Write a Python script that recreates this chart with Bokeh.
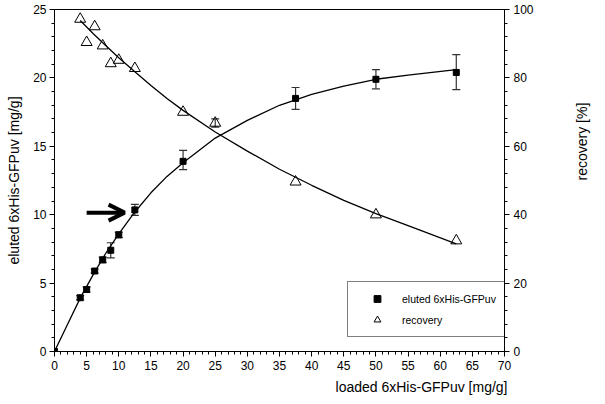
import math
from bokeh.plotting import figure
from bokeh.models import (Range1d, LinearAxis, Whisker, TeeHead, ColumnDataSource,
                          Legend, LegendItem, Arrow, OpenHead, SingleIntervalTicker, Title)
from bokeh.embed import file_html
from bokeh.resources import INLINE

# measured data
loaded = [0, 4, 5, 6.25, 7.5, 8.75, 10, 12.5, 20, 37.5, 50, 62.5]
eluted = [0, 3.93, 4.53, 5.88, 6.70, 7.40, 8.53, 10.35, 13.9, 18.5, 19.9, 20.4]
eluted_lo = [0, 3.78, 4.33, 5.73, 6.50, 6.85, 8.33, 9.95, 13.3, 17.7, 19.2, 19.15]
eluted_hi = [0, 4.08, 4.73, 6.03, 6.90, 7.95, 8.73, 10.75, 14.7, 19.3, 20.6, 21.7]

rec_x = [4, 5, 6.25, 7.5, 8.75, 10, 12.5, 20, 25, 37.5, 50, 62.5]
recovery = [97.2, 90.4, 95.0, 89.4, 84.2, 85.2, 82.8, 70.0, 66.8, 49.6, 40.0, 32.4]
rec_err_x = [25]
rec_err_lo = [65.6]
rec_err_hi = [68.0]

# fitted curves
fit_el_x = [0, 2, 4, 6, 8, 10, 12.5, 15, 17.5, 20, 25, 30, 35, 40, 45, 50, 55, 62.5]
fit_el_y = [0, 1.95, 3.9, 5.6, 7.2, 8.6, 10.2, 11.6, 12.8, 13.8, 15.6, 16.9, 18.0, 18.8, 19.4, 19.9, 20.2, 20.6]
fit_rec_x = [4, 6, 8, 10, 12.5, 15, 17.5, 20, 25, 30, 35, 40, 45, 50, 55, 62.5]
fit_rec_y = [96.8, 93.0, 89.4, 85.9, 81.8, 77.8, 74.0, 70.5, 64.2, 58.6, 53.3, 48.6, 44.2, 40.3, 36.8, 31.5]

x_title = "loaded 6xHis-GFPuv [mg/g]"
y_title = "eluted 6xHis-GFPuv [mg/g]"
y2_title = "recovery [%]"

FONT = "Liberation Sans"

p = figure(width=600, height=400, x_range=Range1d(0, 70), y_range=Range1d(0, 25),
           output_backend="svg", toolbar_location=None,
           min_border_left=54, min_border_right=95, min_border_top=9, min_border_bottom=49)
p.extra_y_ranges = {"rec": Range1d(0, 100)}
p.xgrid.visible = False
p.ygrid.visible = False
p.outline_line_color = "black"
p.outline_line_width = 1

def style_axis(ax):
    ax.axis_line_color = "black"
    ax.major_tick_line_color = "black"
    ax.minor_tick_line_color = "black"
    ax.major_tick_out = 5
    ax.major_tick_in = 0
    ax.minor_tick_out = 3
    ax.minor_tick_in = 0
    ax.major_label_text_font = FONT
    ax.major_label_text_font_size = "12px"
    ax.major_label_text_color = "black"
    ax.axis_label_text_font = FONT
    ax.axis_label_text_font_size = "14px"
    ax.axis_label_text_font_style = "normal"
    ax.axis_label_text_color = "black"

xa = p.xaxis[0]
xa.ticker = SingleIntervalTicker(interval=5, num_minor_ticks=5)
style_axis(xa)
xa.major_label_standoff = 4

ya = p.yaxis[0]
ya.ticker = SingleIntervalTicker(interval=5, num_minor_ticks=5)
ya.axis_label = y_title
style_axis(ya)
ya.major_label_standoff = 3
ya.axis_label_standoff = 8

ra = LinearAxis(y_range_name="rec", axis_label=y2_title,
                ticker=SingleIntervalTicker(interval=20, num_minor_ticks=5))
style_axis(ra)
ra.major_label_standoff = 4
ra.axis_label_standoff = 45
ra.axis_label_orientation = math.pi / 2
p.add_layout(ra, "right")

# x axis title, right-aligned to the end of the axis
p.add_layout(Title(text=x_title, align="right", text_font=FONT, text_font_size="14px",
                   text_font_style="normal", text_color="black", offset=-3,
                   standoff=8), "below")

# curves
p.line(fit_el_x, fit_el_y, line_color="black", line_width=1.3)
p.line(fit_rec_x, fit_rec_y, line_color="black", line_width=1.3, y_range_name="rec")

# error bars
src_e = ColumnDataSource(dict(x=loaded, lo=eluted_lo, hi=eluted_hi))
p.add_layout(Whisker(source=src_e, base="x", lower="lo", upper="hi",
                     line_color="#333333", line_width=1.2,
                     upper_head=TeeHead(size=8, line_color="#333333", line_width=1.2),
                     lower_head=TeeHead(size=8, line_color="#333333", line_width=1.2)))
src_r = ColumnDataSource(dict(x=rec_err_x, lo=rec_err_lo, hi=rec_err_hi))
p.add_layout(Whisker(source=src_r, base="x", lower="lo", upper="hi", y_range_name="rec",
                     line_color="#333333", line_width=1.2,
                     upper_head=TeeHead(size=8, line_color="#333333", line_width=1.2),
                     lower_head=TeeHead(size=8, line_color="#333333", line_width=1.2)))

sq = p.scatter(loaded, eluted, marker="square", size=6, color="black")
tri = p.scatter(rec_x, recovery, marker="triangle", size=11, fill_color=None,
                line_color="black", line_width=1, y_range_name="rec")

# arrow
p.add_layout(Arrow(x_start=5.0, y_start=10.15, x_end=10.9, y_end=10.15, line_width=4,
                   line_color="black",
                   end=OpenHead(size=16, line_width=4, line_color="black")))

legend = Legend(items=[LegendItem(label="eluted 6xHis-GFPuv", renderers=[sq]),
                       LegendItem(label="recovery", renderers=[tri])],
                location=(293, 14), padding=8, glyph_width=42, glyph_height=17,
                label_height=17, label_standoff=4, spacing=4, margin=0,
                label_text_font=FONT, label_text_font_size="10.5px",
                label_text_color="black",
                border_line_color="black", border_line_width=1,
                background_fill_color="white", background_fill_alpha=1)
p.add_layout(legend, "center")

open("out.html", "w").write(file_html(p, INLINE))
